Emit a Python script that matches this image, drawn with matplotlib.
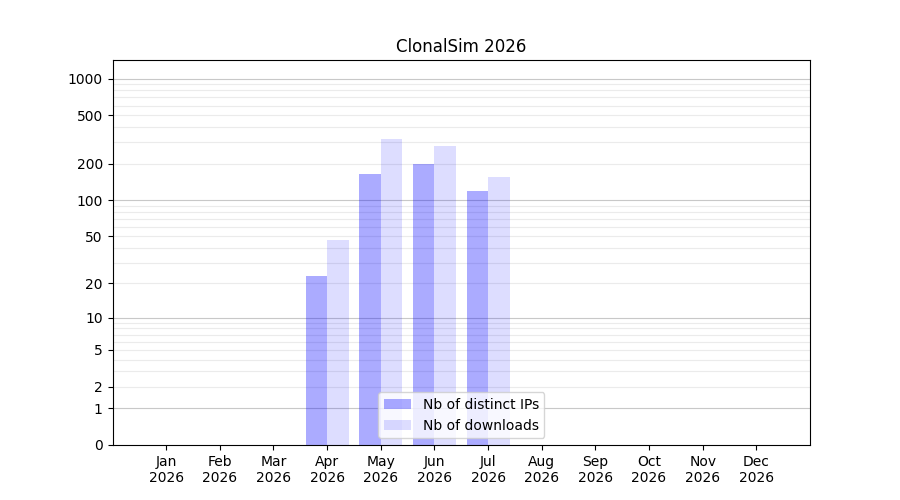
import numpy as np
import matplotlib
matplotlib.use("Agg")
import matplotlib.pyplot as plt

title = "ClonalSim 2026"
month_labels = ["Jan\n2026", "Feb\n2026", "Mar\n2026", "Apr\n2026", "May\n2026", "Jun\n2026",
                "Jul\n2026", "Aug\n2026", "Sep\n2026", "Oct\n2026", "Nov\n2026", "Dec\n2026"]
distinct_ips = [0, 0, 0, 23, 163, 197, 118, 0, 0, 0, 0, 0]
downloads = [0, 0, 0, 47, 322, 277, 154, 0, 0, 0, 0, 0]
ytick_vals = [0, 1, 2, 5, 10, 20, 50, 100, 200, 500, 1000]


def fwd(y):
    return np.log10(1 + np.clip(y, 0, None))


def inv(y):
    return 10 ** y - 1


fig, ax = plt.subplots(figsize=(9, 5), dpi=100)
ax.set_yscale("function", functions=(fwd, inv))

# grid: light lines at 2..9 of every decade, darker at decades
for dec in [1, 10, 100]:
    for k in range(2, 10):
        ax.axhline(k * dec, color="#ebebeb", lw=0.8, zorder=0)
for dec in [1, 10, 100, 1000]:
    ax.axhline(dec, color="#c8c8c8", lw=0.8, zorder=0)

x = np.arange(len(month_labels))
w = 0.4
ax.bar(x, distinct_ips, width=-w, align="edge", color="blue", alpha=0.33,
       label="Nb of distinct IPs", zorder=2)
ax.bar(x, downloads, width=w, align="edge", color="blue", alpha=0.135,
       label="Nb of downloads", zorder=2)

ax.set_yticks(ytick_vals)
ax.set_yticklabels([str(v) for v in ytick_vals])
ax.minorticks_off()
ax.set_ylim(0, 1418)

ax.set_xticks(x)
ax.set_xticklabels(month_labels)
ax.set_xlim(-1, len(month_labels))

ax.set_title(title)
ax.legend(loc="lower center")

fig.savefig("out.png")
